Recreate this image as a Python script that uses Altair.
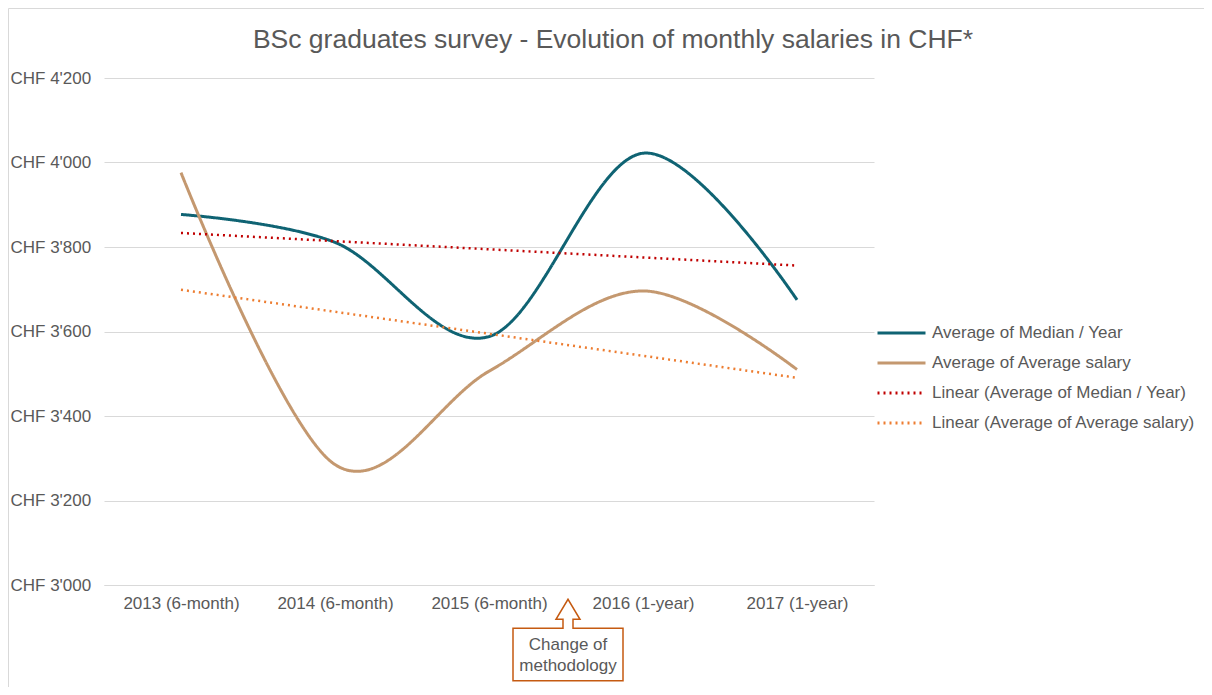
import json
import altair as alt
import pandas as pd

# ---- data ----
categories = ["2013 (6-month)", "2014 (6-month)", "2015 (6-month)", "2016 (1-year)", "2017 (1-year)"]
median_year = [3877, 3811, 3588, 4022, 3675]
average_salary = [3976, 3285, 3506, 3696, 3510]
series_names = ["Average of Median / Year", "Average of Average salary"]
trend_names = ["Linear (Average of Median / Year)", "Linear (Average of Average salary)"]
y_ticks = [3000, 3200, 3400, 3600, 3800, 4000, 4200]
title_text = "BSc graduates survey - Evolution of monthly salaries in CHF*"
note_lines = ["Change of", "methodology"]
note_between = ["2015 (6-month)", "2016 (1-year)"]

# ---- styling ----
teal, tan, red, orange = "#0f6373", "#c4986f", "#c00000", "#ed7d31"
grey_text, grid_col = "#595959", "#d9d9d9"
FONT = "Liberation Sans"
W, H = 770, 507

rows = []
for i, c in enumerate(categories):
    rows.append({"idx": i, "cat": c, "series": series_names[0], "value": median_year[i]})
    rows.append({"idx": i, "cat": c, "series": series_names[1], "value": average_salary[i]})
df = pd.DataFrame(rows)

all_names = series_names + trend_names
color_scale = alt.Scale(domain=all_names, range=[teal, tan, red, orange])
dash_scale = alt.Scale(domain=all_names, range=[[1, 0], [1, 0], [2, 4], [2, 4]])

label_expr = json.dumps(categories) + "[datum.value]"
x_enc = alt.X(
    "idx:Q",
    scale=alt.Scale(domain=[-0.5, len(categories) - 0.5], nice=False, zero=False),
    axis=alt.Axis(
        values=list(range(len(categories))), labelExpr=label_expr, title=None,
        grid=False, ticks=False, domain=True, domainColor=grid_col, domainWidth=1,
        labelFont=FONT, labelFontSize=17, labelColor=grey_text, labelPadding=10,
    ),
)
y_enc = alt.Y(
    "value:Q",
    scale=alt.Scale(domain=[y_ticks[0], y_ticks[-1]], nice=False, zero=False),
    axis=alt.Axis(
        values=y_ticks, title=None, grid=True, gridColor=grid_col, gridWidth=1,
        ticks=False, domain=False,
        labelExpr="'CHF ' + replace(format(datum.value, ','), ',', \"'\")",
        labelAlign="left", labelBaseline="middle", labelPadding=94,
        labelFont=FONT, labelFontSize=17, labelColor=grey_text,
    ),
)

legend = alt.Legend(
    title=None, orient="none", legendX=772, legendY=240, padding=0,
    symbolType="stroke", symbolSize=2304, symbolStrokeWidth=3,
    labelFont=FONT, labelFontSize=17, labelColor=grey_text, labelOffset=5,
    rowPadding=0, clipHeight=30, labelLimit=400,
)

lines = alt.Chart(df).transform_calculate(name="datum.series").mark_line(
    interpolate="cardinal", strokeWidth=3
).encode(
    x=x_enc, y=y_enc,
    color=alt.Color("name:N", scale=color_scale, legend=legend, sort=all_names),
    strokeDash=alt.StrokeDash("name:N", scale=dash_scale, legend=legend, sort=all_names),
    detail="series:N",
)

trends = alt.Chart(df).transform_regression(
    "idx", "value", groupby=["series"], method="linear"
).transform_calculate(
    name="'Linear (' + datum.series + ')'"
).mark_line(strokeWidth=2.5, strokeCap="butt").encode(
    x="idx:Q", y="value:Q",
    color=alt.Color("name:N", scale=color_scale, legend=legend, sort=all_names),
    strokeDash=alt.StrokeDash("name:N", scale=dash_scale, legend=legend, sort=all_names),
    detail="series:N",
)

note_x = (categories.index(note_between[0]) + categories.index(note_between[1])) / 2
note_df = pd.DataFrame({"idx": [note_x], "text": [note_lines]})

box_path = ("M-1,-0.476 H-0.091 V-0.64 H-0.218 L0,-1.004 L0.218,-0.64 H0.091 "
            "V-0.476 H1 V0.476 H-1 Z")
note_box = alt.Chart(note_df).mark_point(
    shape=box_path, size=110 * 110, filled=False, fill="white", fillOpacity=1,
    stroke="#c55a11", strokeWidth=1.5, opacity=1, xOffset=2,
).encode(x=alt.X("idx:Q"), y=alt.value(576.5))

note_text = alt.Chart(note_df).mark_text(
    font=FONT, fontSize=17, color=grey_text, align="center", baseline="middle",
    lineHeight=21, dx=2,
).encode(x=alt.X("idx:Q"), y=alt.value(567), text="text")

frame = alt.Chart(pd.DataFrame({"k": [0]})).mark_rect(
    fill=None, stroke=grid_col, strokeWidth=1
).encode(x=alt.value(-95.5), x2=alt.value(1300), y=alt.value(-69.5), y2=alt.value(900))

chart = alt.layer(frame, lines, trends, note_box, note_text).properties(
    width=W, height=H,
    title=alt.Title(
        title_text, font=FONT, fontSize=26.5, fontWeight="normal", color=grey_text,
        anchor="middle", frame="group", dx=124, offset=20, dy=86, baseline="alphabetic",
    ),
    autosize=alt.AutoSizeParams(type="none"),
    padding={"left": 96, "top": 70, "right": 330, "bottom": 102},
).configure(background="white").configure_view(stroke=None)

chart.save("out.html", embed_options={"renderer": "svg", "actions": False})
